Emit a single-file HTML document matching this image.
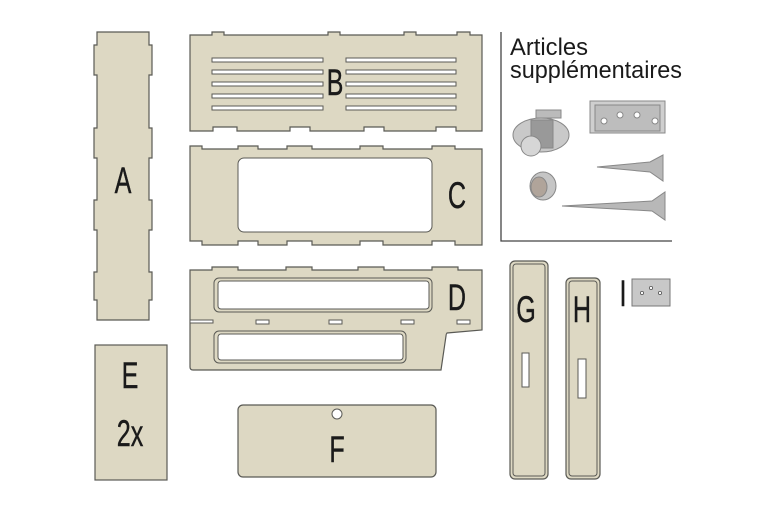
<!DOCTYPE html>
<html><head><meta charset="utf-8"><style>
html,body{margin:0;padding:0;background:#fff;}
svg{display:block}
text{font-family:"Liberation Sans Narrow","Liberation Sans",sans-serif;fill:#1a1a1a}
</style></head><body>
<svg width="768" height="512" viewBox="0 0 768 512" xmlns="http://www.w3.org/2000/svg">
<g fill="#ddd8c3" stroke="#5a5a55" stroke-width="1.2">
<path d="M97,32 H149 V45 H152 V75 H149 V128 H152 V158 H149 V200 H152 V230 H149 V272 H152 V300 H149 V320 H97 V300 H94 V272 H97 V230 H94 V200 H97 V158 H94 V128 H97 V75 H94 V45 H97 Z"/>
<rect x="95" y="345" width="72" height="135"/>
<path d="M190,35 H212 V32 H224 V35 H328 V32 H340 V35 H404 V32 H416 V35 H457 V32 H470 V35 H482 V131 H456 V127 H436 V131 H384 V127 H364 V131 H310 V127 H290 V131 H237 V127 H213 V131 H190 Z"/>
<path d="M190,146 H202 V149 H238 V146 H258 V149 H287 V146 H312 V149 H360 V146 H383 V149 H432 V146 H455 V149 H482 V245 H455 V241 H432 V245 H383 V241 H360 V245 H312 V241 H287 V245 H258 V241 H238 V245 H202 V241 H190 Z"/>
<path d="M190,270 H212 V267 H238 V270 H286 V267 H312 V270 H358 V267 H384 V270 H432 V267 H458 V270 H482 V330 L447,333 Q446,334 446,336 L441,370 H193 Q190,370 190,367 Z"/>
<rect x="238" y="405" width="198" height="72" rx="5"/>
<rect x="510" y="261" width="38" height="218" rx="5"/>
<rect x="566" y="278" width="34" height="201" rx="5"/>
</g>
<g fill="none" stroke="#5a5a55" stroke-width="1">
<rect x="513" y="264" width="32" height="212" rx="3"/>
<rect x="569" y="281" width="28" height="195" rx="3"/>
<rect x="214" y="278" width="218" height="34" rx="5"/>
<rect x="214" y="331" width="192" height="32" rx="5"/>
</g>
<g fill="#fff" stroke="#5a5a55" stroke-width="1">
<rect x="212" y="58" width="111" height="4"/><rect x="346" y="58" width="110" height="4"/>
<rect x="212" y="70" width="111" height="4"/><rect x="346" y="70" width="110" height="4"/>
<rect x="212" y="82" width="111" height="4"/><rect x="346" y="82" width="110" height="4"/>
<rect x="212" y="94" width="111" height="4"/><rect x="346" y="94" width="110" height="4"/>
<rect x="212" y="106" width="111" height="4"/><rect x="346" y="106" width="110" height="4"/>
<rect x="238" y="158" width="194" height="74" rx="6"/>
<rect x="218" y="281" width="211" height="28" rx="3"/>
<rect x="218" y="334" width="185" height="26" rx="3"/>
<rect x="190" y="320" width="23" height="3"/>
<rect x="256" y="320" width="13" height="4"/><rect x="329" y="320" width="13" height="4"/>
<rect x="401" y="320" width="13" height="4"/><rect x="457" y="320" width="13" height="4"/>
<circle cx="337" cy="414" r="5"/>
<rect x="522" y="353" width="7" height="34"/>
<rect x="578" y="359" width="8" height="39"/>
</g>
<rect x="632" y="279" width="38" height="27" fill="#c8c8c8" stroke="#777"/>
<g fill="#fff" stroke="#555" stroke-width="0.8"><circle cx="642" cy="293" r="1.6"/><circle cx="651" cy="288" r="1.6"/><circle cx="660" cy="293" r="1.6"/></g>
<path d="M501,32 V241 H672" fill="none" stroke="#444" stroke-width="1.3"/>
<g stroke="#888" stroke-width="1">
<ellipse cx="541" cy="135" rx="28" ry="17" fill="#c9c9c9"/>
<rect x="536" y="110" width="25" height="8" fill="#bbb"/>
<rect x="531" y="120" width="22" height="28" fill="#999"/>
<circle cx="531" cy="146" r="10" fill="#d6d6d6"/>
<path d="M590,101 H665 V133 H590 Z" fill="#cfcfcf"/>
<rect x="595" y="105" width="65" height="26" fill="#bdbdbd"/>
<circle cx="604" cy="121" r="3" fill="#fff"/><circle cx="620" cy="115" r="3" fill="#fff"/><circle cx="637" cy="115" r="3" fill="#fff"/><circle cx="655" cy="121" r="3" fill="#fff"/>
<ellipse cx="543" cy="186" rx="13" ry="14" fill="#c5c5c5"/>
<ellipse cx="539" cy="187" rx="8" ry="10" fill="#b0a49a"/>
<path d="M597,167 L650,162 L663,155 L663,181 L650,172 Z" fill="#b8b8b8"/>
<path d="M562,206 L652,201 L665,192 L665,220 L652,211 Z" fill="#b8b8b8"/>
</g>
<g font-size="37" text-anchor="middle" stroke="#1a1a1a" stroke-width="0.4">
<g transform="translate(123,193) scale(0.68,1)"><text>A</text></g>
<g transform="translate(335,95) scale(0.68,1)"><text>B</text></g>
<g transform="translate(457,208) scale(0.68,1)"><text>C</text></g>
<g transform="translate(457,310) scale(0.68,1)"><text>D</text></g>
<g transform="translate(130,388) scale(0.68,1)"><text>E</text></g>
<g transform="translate(130,446) scale(0.68,1)"><text>2x</text></g>
<g transform="translate(337,462) scale(0.68,1)"><text>F</text></g>
<g transform="translate(526,322) scale(0.68,1)"><text>G</text></g>
<g transform="translate(582,322) scale(0.68,1)"><text>H</text></g>
<g transform="translate(623,306) scale(0.68,1)"><text>I</text></g>
</g>
<text x="510" y="55" font-size="24" textLength="78" lengthAdjust="spacingAndGlyphs">Articles</text>
<text x="510" y="78" font-size="24" textLength="172" lengthAdjust="spacingAndGlyphs">supplémentaires</text>
</svg>
</body></html>
